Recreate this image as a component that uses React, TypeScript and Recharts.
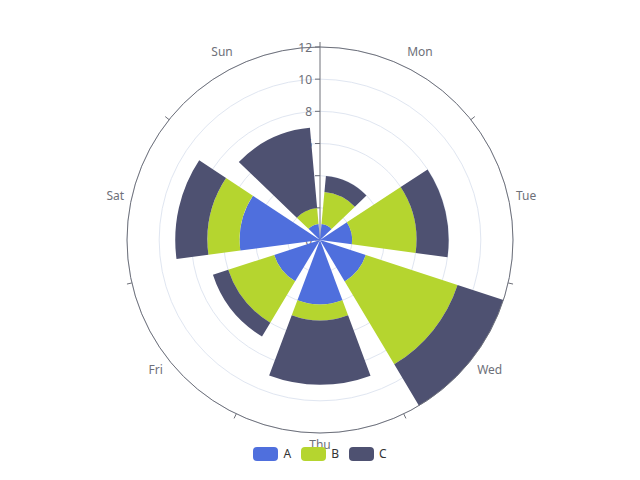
import React from "react";
import {
  RadialBarChart,
  RadialBar,
  PolarAngleAxis,
  PolarRadiusAxis,
  PolarGrid,
  Legend,
} from "recharts";

const days = ["Mon", "Tue", "Wed", "Thu", "Fri", "Sat", "Sun"];
const seriesA = [1, 2, 3, 4, 3, 5, 1];
const seriesB = [2, 4, 6, 1, 3, 2, 1];
const seriesC = [1, 2, 3, 4, 1, 2, 5];
const radiusTicks = [0, 2, 4, 6, 8, 10, 12];

const seriesNames = ["A", "B", "C"];
const seriesColors = ["#4f6fdd", "#b5d52f", "#4e5171"];

const data = days.map((day, i) => ({
  day,
  A: seriesA[i],
  B: seriesB[i],
  C: seriesC[i],
}));

const CX = 320;
const CY = 240;
const AXIS_COLOR = "#6E7079";
const BAND = 360 / days.length;
// recharts draws each bar just before its tick, so start one band early
const START_ANGLE = 90 - BAND;
const RAD = Math.PI / 180;

// tick sits on the band edge; put the day name in the middle of its band
const AngleTick = (props: any) => {
  const { x, y, payload } = props;
  const r = Math.hypot(x - CX, y - CY) + 3;
  const a = (payload.coordinate + BAND / 2) * RAD;
  const lx = CX + r * Math.cos(a);
  const ly = CY - r * Math.sin(a);
  const c = Math.cos(a);
  const anchor = c > 0.01 ? "start" : c < -0.01 ? "end" : "middle";
  const dy = ly - CY;
  const baseline = dy < -80 ? "auto" : dy > 80 ? "hanging" : "central";
  return (
    <text
      x={lx}
      y={dy < -80 ? ly - 3 : dy > 80 ? ly - 2 : ly}
      textAnchor={anchor}
      dominantBaseline={baseline}
      fill={AXIS_COLOR}
      fontSize={12}
    >
      {payload.value}
    </text>
  );
};

const RadiusTick = (props: any) => {
  const { x, y, payload } = props;
  return (
    <g>
      <line x1={x - 5} y1={y} x2={x} y2={y} stroke={AXIS_COLOR} />
      <text
        x={x - 8}
        y={y}
        textAnchor="end"
        dominantBaseline="central"
        fill={AXIS_COLOR}
        fontSize={12}
      >
        {payload.value}
      </text>
    </g>
  );
};

const renderLegend = () => (
  <div
    style={{
      display: "flex",
      justifyContent: "center",
      gap: 10,
      fontSize: 12,
      color: "#333",
    }}
  >
    {seriesNames.map((name, i) => (
      <div key={name} style={{ display: "flex", alignItems: "center", gap: 5 }}>
        <span
          style={{
            display: "inline-block",
            width: 25,
            height: 14,
            borderRadius: 4,
            background: seriesColors[i],
          }}
        />
        <span>{name}</span>
      </div>
    ))}
  </div>
);

export default function App() {
  return (
    <div style={{ position: "absolute", left: 0, top: 0, fontFamily: "'Noto Sans', sans-serif" }}>
      <RadialBarChart
        width={640}
        height={480}
        data={data}
        cx={CX}
        cy={CY}
        innerRadius={0}
        outerRadius={193}
        startAngle={START_ANGLE}
        endAngle={START_ANGLE - 360}
        layout="centric"
        barCategoryGap="10%"
      >
        <PolarGrid gridType="circle" radialLines={false} stroke="#E0E6F1" />
        {/* axis under the bars so the bars hide the low labels */}
        <PolarRadiusAxis
          type="number"
          angle={90}
          domain={[0, 12]}
          ticks={radiusTicks}
          tick={<RadiusTick />}
          axisLine={{ stroke: AXIS_COLOR }}
          zIndex={100}
        />
        {seriesNames.map((name, i) => (
          <RadialBar
            key={name}
            dataKey={name}
            name={name}
            stackId="a"
            fill={seriesColors[i]}
            isAnimationActive={false}
          />
        ))}
        <PolarAngleAxis
          type="category"
          dataKey="day"
          axisLineType="circle"
          axisLine={{ stroke: AXIS_COLOR }}
          tickLine={{ stroke: AXIS_COLOR }}
          tickSize={5}
          tick={<AngleTick />}
        />
        <Legend
          content={renderLegend}
          wrapperStyle={{ position: "absolute", top: 445, left: 0, width: 640 }}
        />
      </RadialBarChart>
    </div>
  );
}
